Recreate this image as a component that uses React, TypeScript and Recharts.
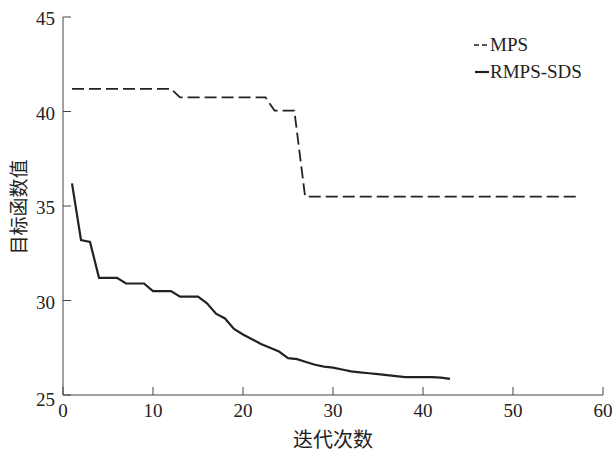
import React from 'react';
import { LineChart, Line, XAxis, YAxis } from 'recharts';

const xTicks = [0, 10, 20, 30, 40, 50, 60];
const yTicks = [25, 30, 35, 40, 45];

const mpsIter = [1, 12, 13, 22.5, 23.5, 25.7, 26.9, 57];
const mpsValue = [41.2, 41.2, 40.75, 40.75, 40.05, 40.05, 35.5, 35.5];

const sdsIter = [
  1, 2, 3, 4, 5, 6, 7, 8, 9, 10, 11, 12, 13, 14, 15, 16, 17, 18, 19, 20, 21, 22,
  23, 24, 25, 26, 27, 28, 29, 30, 31, 32, 33, 34, 35, 36, 37, 38, 39, 40, 41, 42, 43,
];
const sdsValue = [
  36.2, 33.2, 33.1, 31.2, 31.2, 31.2, 30.9, 30.9, 30.9, 30.5, 30.5, 30.5, 30.2, 30.2,
  30.2, 29.85, 29.3, 29.05, 28.5, 28.2, 27.95, 27.7, 27.5, 27.3, 26.95, 26.9, 26.75,
  26.6, 26.5, 26.45, 26.35, 26.25, 26.2, 26.15, 26.1, 26.05, 26.0, 25.95, 25.95, 25.95,
  25.95, 25.92, 25.85,
];

const mpsData = mpsIter.map((x, i) => ({ x, y: mpsValue[i] }));
const sdsData = sdsIter.map((x, i) => ({ x, y: sdsValue[i] }));

const serif = 'Liberation Serif, Tinos, DejaVu Serif, serif';
const cjk = 'Noto Sans CJK SC, sans-serif';
const ink = '#222';
const axisInk = '#444';

const XTick = (props: any) => {
  const { x, y, payload } = props;
  return (
    <g>
      <line x1={x} y1={y} x2={x} y2={y - 8} stroke={axisInk} strokeWidth={1} />
      <text x={x} y={y + 22} textAnchor="middle" style={{ fontFamily: serif }} fontSize={19} fill={ink}>
        {payload.value}
      </text>
    </g>
  );
};

const YTick = (props: any) => {
  const { x, y, payload } = props;
  const dy = payload.value === 25 ? 11 : 8;
  return (
    <g>
      <line x1={x} y1={y} x2={x + 8} y2={y} stroke={axisInk} strokeWidth={1} />
      <text x={x - 8} y={y + dy} textAnchor="end" style={{ fontFamily: serif }} fontSize={19} fill={ink}>
        {payload.value}
      </text>
    </g>
  );
};

const LegendBox = () => (
  <div
    style={{
      position: 'absolute',
      left: 474,
      top: 31,
      fontFamily: serif,
      fontSize: 19,
      color: ink,
      lineHeight: '27px',
    }}
  >
    <div style={{ display: 'flex', alignItems: 'center' }}>
      <svg width={16} height={10}>
        <line x1={0} y1={5} x2={16} y2={5} stroke={ink} strokeWidth={1.6} strokeDasharray="5 3" />
      </svg>
      <span>MPS</span>
    </div>
    <div style={{ display: 'flex', alignItems: 'center' }}>
      <svg width={16} height={10}>
        <line x1={1} y1={5} x2={15} y2={5} stroke={ink} strokeWidth={2.2} />
      </svg>
      <span>RMPS-SDS</span>
    </div>
  </div>
);

export default function App() {
  return (
    <div style={{ position: 'absolute', left: 0, top: 0, width: 613, height: 451, background: '#fff' }}>
      <LineChart width={613} height={451} margin={{ top: 17, right: 10, left: 0, bottom: 0 }}>
        <XAxis
          type="number"
          dataKey="x"
          domain={[0, 60]}
          ticks={xTicks}
          allowDuplicatedCategory={false}
          height={56}
          tickSize={0}
          tickMargin={0}
          tickLine={false}
          tick={<XTick />}
          axisLine={{ stroke: axisInk, strokeWidth: 1 }}
        />
        <YAxis
          type="number"
          dataKey="y"
          domain={[25, 45]}
          ticks={yTicks}
          width={63}
          tickSize={0}
          tickMargin={0}
          tickLine={false}
          tick={<YTick />}
          axisLine={{ stroke: axisInk, strokeWidth: 1 }}
        />
        <Line
          data={mpsData}
          dataKey="y"
          name="MPS"
          type="linear"
          stroke={ink}
          strokeWidth={1.8}
          strokeDasharray="12 5"
          dot={false}
          isAnimationActive={false}
        />
        <Line
          data={sdsData}
          dataKey="y"
          name="RMPS-SDS"
          type="linear"
          stroke={ink}
          strokeWidth={2.2}
          dot={false}
          isAnimationActive={false}
        />
      </LineChart>
      <LegendBox />
      <div
        style={{
          position: 'absolute',
          left: 17,
          top: 207,
          transform: 'translate(-50%, -50%) rotate(-90deg)',
          fontFamily: cjk,
          fontSize: 19,
          color: ink,
          whiteSpace: 'nowrap',
        }}
      >
        目标函数值
      </div>
      <div
        style={{
          position: 'absolute',
          left: 333,
          top: 438,
          transform: 'translate(-50%, -50%)',
          fontFamily: cjk,
          fontSize: 20,
          color: ink,
          whiteSpace: 'nowrap',
        }}
      >
        迭代次数
      </div>
    </div>
  );
}
